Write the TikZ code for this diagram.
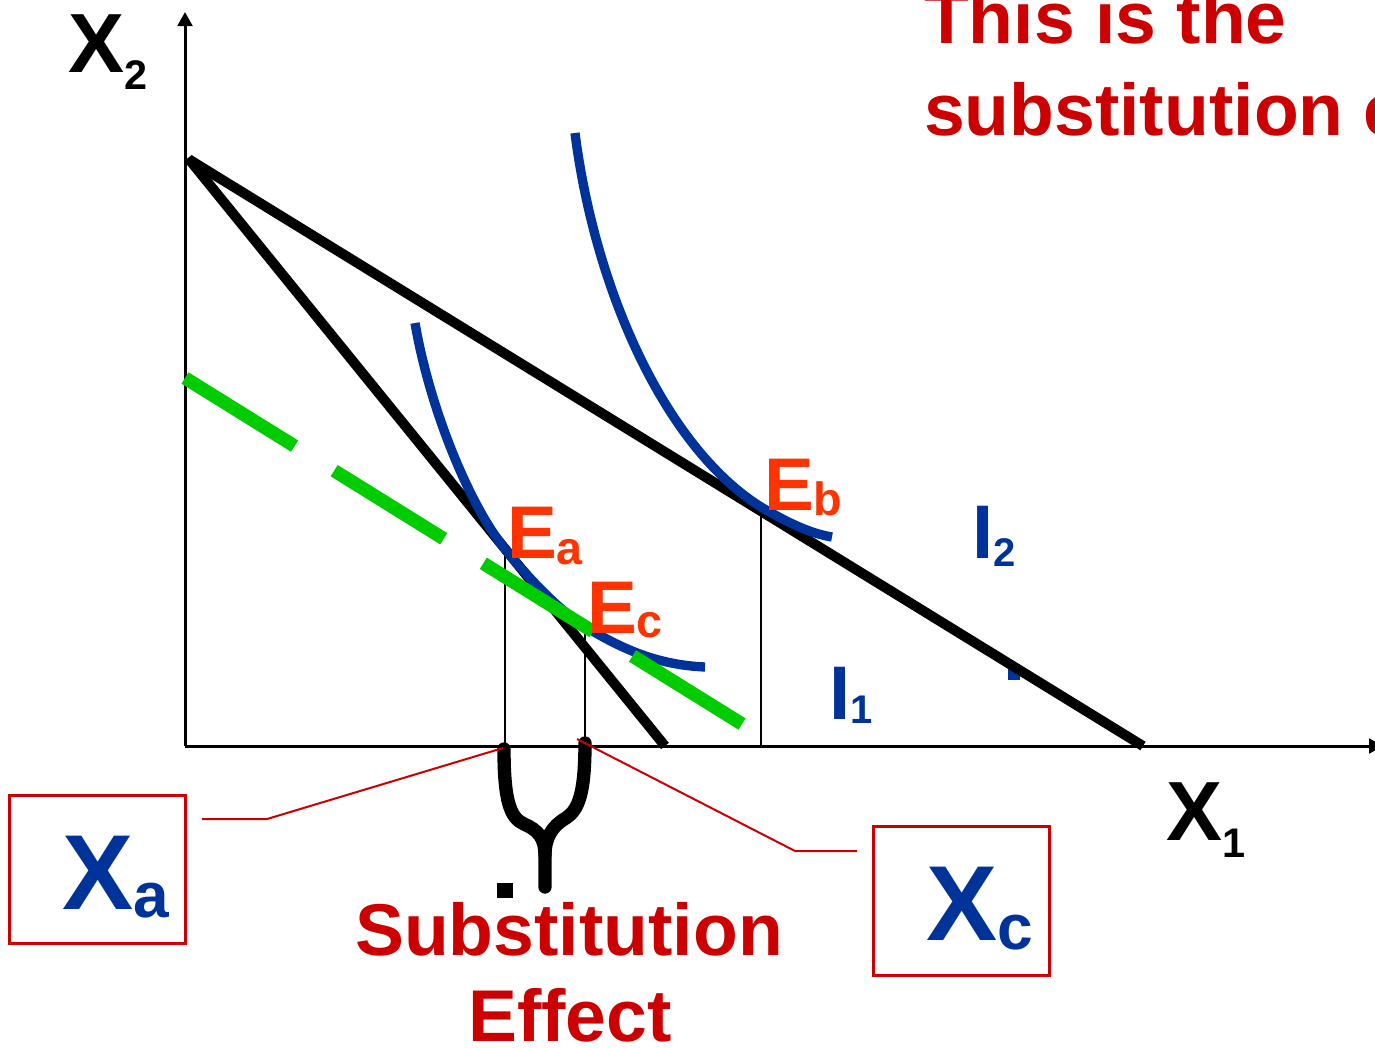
\documentclass[tikz,border=0pt]{standalone}
\usepackage{fontspec}
\setmainfont{Liberation Sans}
\usetikzlibrary{arrows.meta}
\definecolor{iblue}{RGB}{0,51,153}
\definecolor{eorange}{RGB}{255,51,0}
\definecolor{lred}{RGB}{204,0,0}
\definecolor{lgreen}{RGB}{0,204,0}
\newcommand\lowsub[3]{\raisebox{-#2}{\fontsize{#1}{#1}\selectfont #3}}
\tikzset{
  lbl/.style={anchor=base west, inner sep=0pt, outer sep=0pt},
  axisline/.style={line width=2.25pt, -{Triangle[length=10.5pt,width=11pt]}},
  budget/.style={line width=7.5pt, draw=black},
  icurve/.style={line width=7pt, draw=iblue},
  guide/.style={line width=1.5pt, draw=black},
  conn/.style={line width=1.5pt, draw=lred},
  valbox/.style={draw=lred, line width=2.25pt, minimum width=132pt, minimum height=111.5pt, inner sep=0pt},
  bracestroke/.style={line width=10pt, line cap=round, line join=round, draw=black},
  greendash/.style={line width=10pt, draw=lgreen, dash pattern=on 96.75pt off 34.95pt},
}
\begin{document}
\begin{tikzpicture}[x=0.75pt,y=-0.75pt]
\useasboundingbox (0,0) rectangle (1375,1047);
\clip (0,0) rectangle (1375,1047);
% points
\coordinate (O) at (185,746);
\coordinate (ytop) at (185,12);
\coordinate (xend) at (1383,746);
\coordinate (Ea) at (505,549);
\coordinate (Ec) at (585,626.5);
\coordinate (Eb) at (761,507);
% axes
\draw[axisline] (O) -- (ytop);
\draw[axisline] (O) -- (xend);
% guides
\draw[guide] (Ea) -- (Ea |- O);
\draw[guide] (Ec) -- (Ec |- O);
\draw[guide] (Eb) -- (Eb |- O);
% small blue mark
\fill[iblue] (1008,664) rectangle (1020,680);
% budget lines
\coordinate (b1s) at (188,158);
\coordinate (b1e) at (665,746);
\coordinate (b2s) at (190,160);
\coordinate (b2e) at (1143,746);
\draw[budget] (b1s) -- (b1e);
\draw[budget] (b2s) -- (b2e);
% indifference curves
\draw[icurve] (415,323) .. controls (430,410) and (470,506) .. (Ea)
  .. controls (530,580) and (560,611) .. (Ec)
  .. controls (625,651) and (660,665) .. (705,667);
\draw[icurve] (575,133) .. controls (595,290) and (665,447) .. (Eb)
  .. controls (785,521) and (808,533) .. (832,537);
% green dashed line
\coordinate (gs) at (185,378);
\coordinate (ge) at (742,724);
\draw[greendash] (gs) -- (ge);
% axis labels
\node[lbl, font=\bfseries\fontsize{63pt}{63pt}\selectfont] (x2lbl) at (68,72) {X\lowsub{31pt}{12.75pt}{2}};
\node[lbl, font=\bfseries\fontsize{63pt}{63pt}\selectfont] (x1lbl) at (1166,840) {X\lowsub{31pt}{12.75pt}{1}};
% point labels
\node[lbl, text=eorange, font=\bfseries\fontsize{56pt}{56pt}\selectfont] (ealbl) at (507,558) {E\lowsub{35pt}{4.5pt}{a}};
\node[lbl, text=eorange, font=\bfseries\fontsize{56pt}{56pt}\selectfont] (eblbl) at (764,510) {E\lowsub{35pt}{3.75pt}{b}};
\node[lbl, text=eorange, font=\bfseries\fontsize{56pt}{56pt}\selectfont] (eclbl) at (587,633) {E\lowsub{35pt}{3pt}{c}};
% curve labels
\node[lbl, text=iblue, font=\bfseries\fontsize{57pt}{57pt}\selectfont] (i2lbl) at (972,558) {I\lowsub{30pt}{6pt}{2}};
\node[lbl, text=iblue, font=\bfseries\fontsize{57pt}{57pt}\selectfont] (i1lbl) at (829,719) {I\lowsub{30pt}{3pt}{1}};
% brace
\draw[bracestroke] (504,749) .. controls (504,800) and (510,818) .. (524,824)
  .. controls (538,830) and (545,838) .. (545,855) -- (545,887);
\draw[bracestroke] (585,743) .. controls (585,795) and (578,810) .. (566,818)
  .. controls (552,826) and (545,838) .. (545,855);
\fill[black] (497,883) rectangle (513,898);
% value boxes
\node[valbox] (xabox) at (97,869.5) {};
\node[lbl, text=iblue, font=\bfseries\fontsize{80pt}{80pt}\selectfont] (xalbl) at (62,909) {X\lowsub{48pt}{6pt}{a}};
\node[valbox] (xcbox) at (961,901) {};
\node[lbl, text=iblue, font=\bfseries\fontsize{80pt}{80pt}\selectfont] (xclbl) at (926,940) {X\lowsub{48pt}{6.75pt}{c}};
% connectors
\coordinate (xa1) at (202,819);
\coordinate (xa2) at (267,819);
\coordinate (xa3) at (503,748);
\draw[conn] (xa1) -- (xa2) -- (xa3);
\coordinate (xc1) at (857,851);
\coordinate (xc2) at (795,851);
\coordinate (xc3) at (577,739);
\draw[conn] (xc1) -- (xc2) -- (xc3);
% texts
\node[anchor=base, inner sep=0pt, text=lred, font=\bfseries\fontsize{55pt}{55pt}\selectfont] (subst) at (569,955) {Substitution};
\node[anchor=base, inner sep=0pt, text=lred, font=\bfseries\fontsize{55pt}{55pt}\selectfont] (effect) at (570,1041) {Effect};
\node[lbl, text=lred, font=\bfseries\fontsize{55pt}{55pt}\selectfont] (note1) at (924,43) {This is the};
\node[lbl, text=lred, font=\bfseries\fontsize{55pt}{55pt}\selectfont] (note2) at (924,135) {substitution effect};
\end{tikzpicture}
\end{document}
